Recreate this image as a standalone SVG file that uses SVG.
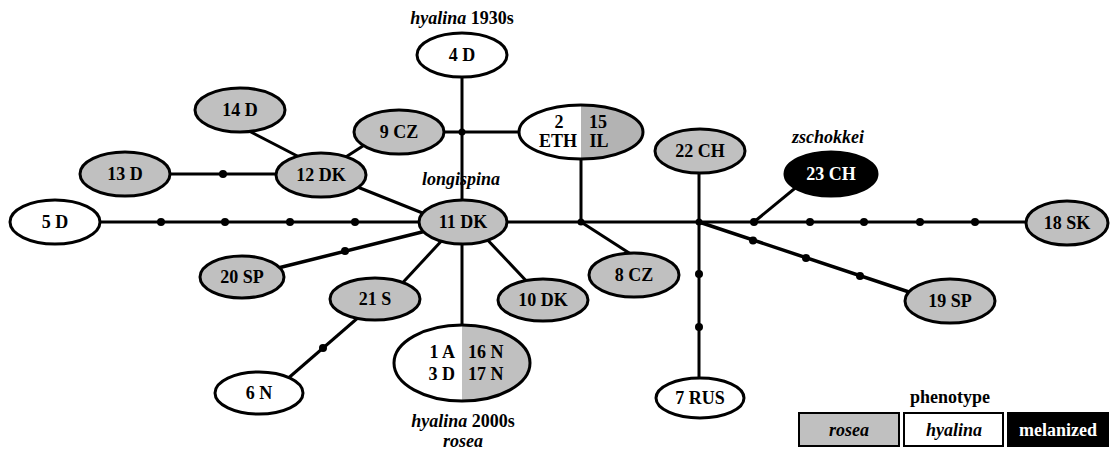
<svg xmlns="http://www.w3.org/2000/svg" width="1110" height="450" viewBox="0 0 1110 450">
<style>
text{font-family:"Liberation Serif","Times New Roman",serif;font-weight:bold;font-size:18px;text-anchor:middle;fill:#000}
.it{font-style:italic}
.w{fill:#fff}
.e{stroke:#000;stroke-width:3}
.g{fill:#c0c0c0}
.h{fill:#fff}
.b{fill:#000}
#connectors line{stroke:#000;stroke-width:3;fill:none}
#connectors circle{fill:#000}
.lg{stroke:#000;stroke-width:2}
</style>
<rect width="1110" height="450" fill="#fff"/>
<g id="connectors">
<line x1="462" y1="55" x2="462" y2="222"/>
<line x1="399" y1="132" x2="581" y2="132"/>
<circle cx="462" cy="132" r="3.5"/>
<line x1="55" y1="222" x2="1067" y2="222"/>
<circle cx="161" cy="222" r="4"/>
<circle cx="225" cy="222" r="4"/>
<circle cx="290" cy="222" r="4"/>
<circle cx="355" cy="222" r="4"/>
<line x1="125" y1="174" x2="321" y2="174"/>
<circle cx="223" cy="174" r="4"/>
<line x1="245" y1="129" x2="305" y2="160"/>
<line x1="366" y1="144" x2="338" y2="162"/>
<line x1="345" y1="182" x2="430" y2="216"/>
<line x1="270" y1="270" x2="430" y2="230" style="stroke-width:3.5"/>
<circle cx="345" cy="251" r="4"/>
<line x1="395" y1="291" x2="446" y2="236"/>
<line x1="462" y1="222" x2="462" y2="340"/>
<line x1="482" y1="234" x2="532" y2="287"/>
<line x1="285" y1="381" x2="360" y2="316"/>
<circle cx="323" cy="348" r="4"/>
<line x1="581" y1="140" x2="581" y2="222"/>
<circle cx="581" cy="222" r="3.5"/>
<line x1="581" y1="222" x2="640" y2="260"/>
<line x1="699" y1="151" x2="699" y2="390"/>
<circle cx="699" cy="222" r="3.5"/>
<circle cx="699" cy="274" r="4"/>
<circle cx="699" cy="327" r="4"/>
<line x1="754" y1="222" x2="805" y2="180"/>
<circle cx="754" cy="222" r="4"/>
<circle cx="810" cy="222" r="4"/>
<circle cx="864" cy="222" r="4"/>
<circle cx="920" cy="222" r="4"/>
<circle cx="975" cy="222" r="4"/>
<line x1="699" y1="222" x2="930" y2="299" style="stroke-width:3.5"/>
<circle cx="753" cy="240.5" r="4"/>
<circle cx="806" cy="258" r="4"/>
<circle cx="860" cy="276" r="4"/>
</g>
<g id="n4D"><ellipse class="e h" cx="462" cy="55" rx="45" ry="22"/><text x="462" y="61">4 D</text></g>
<g id="n14D"><ellipse class="e g" cx="240" cy="110" rx="45" ry="22"/><text x="240" y="116">14 D</text></g>
<g id="n9CZ"><ellipse class="e g" cx="399" cy="132" rx="45" ry="22"/><text x="399" y="138">9 CZ</text></g>
<g id="n2_15">
<ellipse class="h" cx="581" cy="132" rx="62" ry="27"/>
<path d="M581,105 A62,27 0 0 1 581,159 Z" fill="#b3b3b3"/>
<ellipse cx="581" cy="132" rx="62" ry="27" fill="none" stroke="#000" stroke-width="3"/>
<text x="559" y="128">2</text><text x="558" y="147">ETH</text>
<text x="598" y="128">15</text><text x="599" y="147">IL</text>
</g>
<g id="n13D"><ellipse class="e g" cx="125" cy="174" rx="45" ry="22"/><text x="125" y="180">13 D</text></g>
<g id="n12DK"><ellipse class="e g" cx="321" cy="175" rx="45" ry="22"/><text x="321" y="181">12 DK</text></g>
<g id="n22CH"><ellipse class="e g" cx="700" cy="151" rx="45" ry="22"/><text x="700" y="157">22 CH</text></g>
<g id="n23CH"><ellipse class="e b" cx="831" cy="174" rx="46" ry="22"/><text class="w" x="831" y="180">23 CH</text></g>
<g id="n5D"><ellipse class="e h" cx="55" cy="222" rx="45" ry="22"/><text x="55" y="228">5 D</text></g>
<g id="n11DK"><ellipse class="e g" cx="463" cy="222" rx="44" ry="22"/><text x="463" y="228">11 DK</text></g>
<g id="n18SK"><ellipse class="e g" cx="1067" cy="223" rx="41" ry="22"/><text x="1067" y="229">18 SK</text></g>
<g id="n20SP"><ellipse class="e g" cx="242" cy="277" rx="42" ry="21"/><text x="242" y="283">20 SP</text></g>
<g id="n21S"><ellipse class="e g" cx="375" cy="299" rx="45" ry="21"/><text x="375" y="305">21 S</text></g>
<g id="n10DK"><ellipse class="e g" cx="543" cy="300" rx="45" ry="21"/><text x="543" y="306">10 DK</text></g>
<g id="n8CZ"><ellipse class="e g" cx="634" cy="275" rx="45" ry="22"/><text x="634" y="281">8 CZ</text></g>
<g id="n19SP"><ellipse class="e g" cx="950" cy="301" rx="45" ry="22"/><text x="950" y="307">19 SP</text></g>
<g id="n6N"><ellipse class="e h" cx="259" cy="393" rx="44" ry="21"/><text x="259" y="399">6 N</text></g>
<g id="n1_3_16_17">
<ellipse class="h" cx="462" cy="363" rx="68" ry="38"/>
<path d="M462,325 A68,38 0 0 1 462,401 Z" fill="#c0c0c0"/>
<ellipse cx="462" cy="363" rx="68" ry="38" fill="none" stroke="#000" stroke-width="3"/>
<text x="455" y="358" style="text-anchor:end">1 A</text>
<text x="455" y="380" style="text-anchor:end">3 D</text>
<text x="468" y="358" style="text-anchor:start">16 N</text>
<text x="468" y="380" style="text-anchor:start">17 N</text>
</g>
<g id="n7RUS"><ellipse class="e h" cx="700" cy="398" rx="44" ry="20"/><text x="700" y="404">7 RUS</text></g>
<g id="labels">
<text x="462" y="24"><tspan class="it">hyalina</tspan> 1930s</text>
<text class="it" x="461" y="185">longispina</text>
<text class="it" x="828" y="143">zschokkei</text>
<text x="463" y="427"><tspan class="it">hyalina</tspan> 2000s</text>
<text class="it" x="463" y="447">rosea</text>
</g>
<g id="legend">
<text x="950" y="403">phenotype</text>
<rect class="lg" x="799" y="413" width="100" height="33" fill="#c0c0c0"/>
<rect class="lg" x="904" y="413" width="99" height="33" fill="#fff"/>
<rect class="lg" x="1008" y="413" width="100" height="33" fill="#000"/>
<text class="it" x="849" y="436">rosea</text>
<text class="it" x="954" y="436">hyalina</text>
<text class="w" x="1058" y="436">melanized</text>
</g>
</svg>
